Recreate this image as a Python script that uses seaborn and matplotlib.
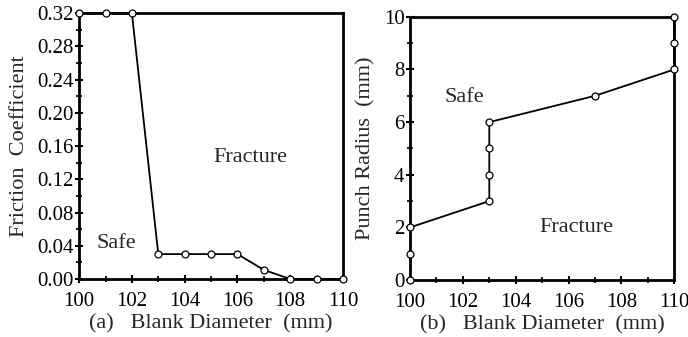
import matplotlib
matplotlib.use("Agg")
import matplotlib.pyplot as plt
import seaborn as sns
import pandas as pd
from matplotlib.ticker import MultipleLocator

sns.set_theme(style="white")
plt.rcParams['font.family'] = ['Liberation Serif', 'DejaVu Serif']

# Panel (a): friction coefficient boundary
a_diam = [100, 101, 102, 103, 104, 105, 106, 107, 108, 109, 110]
a_fric = [0.32, 0.32, 0.32, 0.03, 0.03, 0.03, 0.03, 0.011, 0.0, 0.0, 0.0]

# Panel (b): punch radius boundary line
b_line_diam = [100, 103, 103, 107, 110, 110]
b_line_rad = [2, 3, 6, 7, 8, 10]
# Panel (b): all tested points
b_pt_diam = [100, 100, 100, 103, 103, 103, 103, 107, 110, 110, 110]
b_pt_rad = [0, 1, 2, 3, 4, 5, 6, 7, 8, 9, 10]

dfa = pd.DataFrame({"d": a_diam, "f": a_fric})
dfb_line = pd.DataFrame({"d": b_line_diam, "r": b_line_rad})
dfb_pts = pd.DataFrame({"d": b_pt_diam, "r": b_pt_rad})

fig = plt.figure(figsize=(6.88, 3.37), dpi=100)
ax1 = fig.add_axes([0.115, 0.172, 0.3835, 0.789])
ax2 = fig.add_axes([0.596, 0.169, 0.384, 0.781])

TICK = 15
LAB = 16

def style(ax):
    for s in ax.spines.values():
        s.set_linewidth(2.0)
        s.set_color("black")
    ax.tick_params(which="major", direction="inout", length=6, width=1.5,
                   labelsize=TICK, colors="black", pad=1)
    ax.tick_params(which="minor", direction="inout", length=4, width=1.5)
    ax.tick_params(axis="x", which="major", pad=6)
    ax.tick_params(left=True, bottom=True, which="both")
    ax.grid(False)

# Panel (a)
sns.lineplot(data=dfa, x="d", y="f", ax=ax1, color="black", linewidth=1.3,
             sort=False, estimator=None, marker="o", markersize=5,
             markerfacecolor="white", markeredgecolor="black",
             markeredgewidth=0.9, clip_on=False, zorder=5)
ax1.set_xlim(100, 110)
ax1.set_ylim(0, 0.32)
ax1.xaxis.set_major_locator(MultipleLocator(2))
ax1.xaxis.set_minor_locator(MultipleLocator(1))
ax1.yaxis.set_major_locator(MultipleLocator(0.04))
ax1.yaxis.set_minor_locator(MultipleLocator(0.02))
ax1.yaxis.set_major_formatter(matplotlib.ticker.FormatStrFormatter("%.2f"))
style(ax1)
ax1.set_xlabel("(a)   Blank Diameter  (mm)", fontsize=LAB, labelpad=3)
ax1.set_ylabel("Friction  Coefficient", fontsize=LAB, labelpad=6)
ax1.text(106.5, 0.146, "Fracture", fontsize=LAB, ha="center", va="center")
ax1.text(101.4, 0.043, "Safe", fontsize=LAB, ha="center", va="center")

# Panel (b)
sns.lineplot(data=dfb_line, x="d", y="r", ax=ax2, color="black", linewidth=1.3,
             sort=False, estimator=None, clip_on=False, zorder=4)
ax2.plot(dfb_pts["d"], dfb_pts["r"], linestyle="none", marker="o", markersize=5,
         markerfacecolor="white", markeredgecolor="black", markeredgewidth=0.9,
         clip_on=False, zorder=6)
ax2.set_xlim(100, 110)
ax2.set_ylim(0, 10)
ax2.xaxis.set_major_locator(MultipleLocator(2))
ax2.xaxis.set_minor_locator(MultipleLocator(1))
ax2.yaxis.set_major_locator(MultipleLocator(2))
ax2.yaxis.set_minor_locator(MultipleLocator(1))
style(ax2)
ax2.set_xlabel("(b)   Blank Diameter  (mm)", fontsize=LAB, labelpad=3)
ax2.set_ylabel("Punch Radius  (mm)", fontsize=LAB, labelpad=6)
ax2.text(102.05, 6.92, "Safe", fontsize=LAB, ha="center", va="center")
ax2.text(106.3, 2.0, "Fracture", fontsize=LAB, ha="center", va="center")

fig.savefig("out.png", dpi=100)
